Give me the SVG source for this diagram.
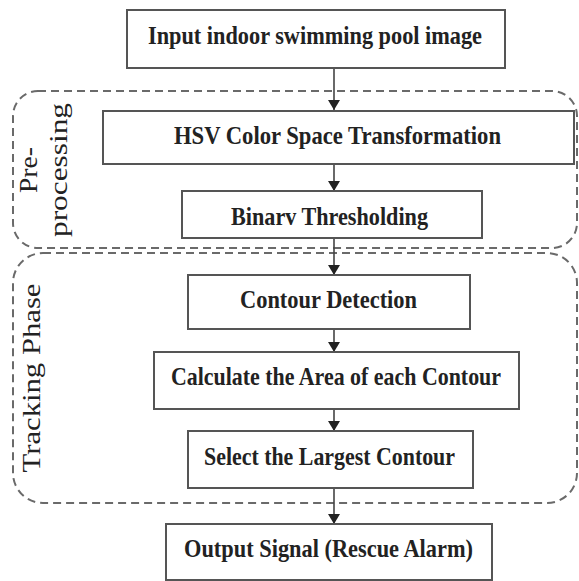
<svg xmlns="http://www.w3.org/2000/svg" width="579" height="581" viewBox="0 0 579 581">
<style>
.box{fill:#fff;stroke:#555;stroke-width:2}
.grp{fill:none;stroke:#6a6a6a;stroke-width:2;stroke-dasharray:8 5}
.t{font-family:'Liberation Serif','Times New Roman',Times,serif;font-weight:bold;font-size:25px;fill:#222}
.lbl{font-family:'Liberation Serif','Times New Roman',Times,serif;font-size:25px;fill:#222;text-anchor:middle}
.ln{stroke:#444;stroke-width:1.6;fill:none;marker-end:url(#ah)}
</style>
<defs>
<marker id="ah" viewBox="0 0 10 12" refX="10" refY="6" markerWidth="10" markerHeight="12" markerUnits="userSpaceOnUse" orient="auto">
<path d="M0,0 L10,6 L0,12 Z" fill="#222"/>
</marker>
</defs>
<rect width="579" height="581" fill="#fff"/>
<g id="group-preprocessing">
<rect class="grp" x="13" y="91" width="564" height="157" rx="25"/>
<text class="lbl" transform="translate(37,170) rotate(-90)" textLength="46" lengthAdjust="spacingAndGlyphs">Pre-</text>
<text class="lbl" transform="translate(67,170) rotate(-90)" textLength="134" lengthAdjust="spacingAndGlyphs">processing</text>
</g>
<g id="group-tracking">
<rect class="grp" x="13" y="253" width="564" height="250" rx="30"/>
<text class="lbl" transform="translate(40,378) rotate(-90)" textLength="189" lengthAdjust="spacingAndGlyphs">Tracking Phase</text>
</g>
<g id="connectors">
<line class="ln" x1="334" y1="68" x2="334" y2="110"/>
<line class="ln" x1="334" y1="164" x2="334" y2="191"/>
<line class="ln" x1="334" y1="238" x2="334" y2="275"/>
<line class="ln" x1="334" y1="329" x2="334" y2="352"/>
<line class="ln" x1="334" y1="409" x2="334" y2="431"/>
<line class="ln" x1="334" y1="488" x2="334" y2="524"/>
</g>
<g id="n-input">
<rect class="box" x="127" y="10" width="378" height="58"/>
<text class="t" x="148" y="44" textLength="334" lengthAdjust="spacingAndGlyphs">Input indoor swimming pool image</text>
</g>
<g id="n-hsv">
<rect class="box" x="103" y="111" width="471" height="53"/>
<text class="t" x="174" y="144" textLength="327" lengthAdjust="spacingAndGlyphs">HSV Color Space Transformation</text>
</g>
<g id="n-binary">
<rect class="box" x="182" y="191" width="300" height="47"/>
<text class="t" x="231" y="225" textLength="197" lengthAdjust="spacingAndGlyphs">Binarv Thresholding</text>
</g>
<g id="n-contour">
<rect class="box" x="188" y="275" width="282" height="54"/>
<text class="t" x="240" y="308" textLength="177" lengthAdjust="spacingAndGlyphs">Contour Detection</text>
</g>
<g id="n-area">
<rect class="box" x="154" y="352" width="365" height="57"/>
<text class="t" x="171" y="385" textLength="330" lengthAdjust="spacingAndGlyphs">Calculate the Area of each Contour</text>
</g>
<g id="n-largest">
<rect class="box" x="188" y="431" width="285" height="57"/>
<text class="t" x="204" y="465" textLength="251" lengthAdjust="spacingAndGlyphs">Select the Largest Contour</text>
</g>
<g id="n-output">
<rect class="box" x="166" y="524" width="326" height="56"/>
<text class="t" x="184" y="557" textLength="289" lengthAdjust="spacingAndGlyphs">Output Signal (Rescue Alarm)</text>
</g>
</svg>
